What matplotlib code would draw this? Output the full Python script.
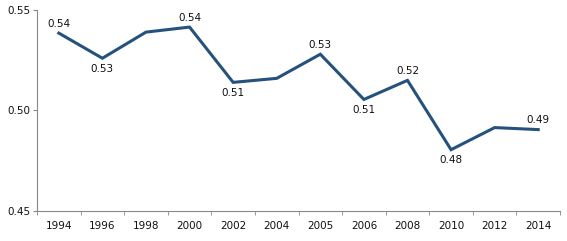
import matplotlib
matplotlib.use("Agg")
import matplotlib.pyplot as plt
import numpy as np

# values
years = ["1994", "1996", "1998", "2000", "2002", "2004",
         "2005", "2006", "2008", "2010", "2012", "2014"]
values = [0.5385, 0.526, 0.539, 0.5415, 0.514, 0.516,
          0.528, 0.5055, 0.515, 0.4805, 0.4915, 0.4905]
point_labels = ["0.54", "0.53", "", "0.54", "0.51", "",
                "0.53", "0.51", "0.52", "0.48", "", "0.49"]
label_above = [True, False, True, True, False, True,
               True, False, True, False, True, True]

plt.rcParams['font.family'] = ['DejaVu Sans']

fig = plt.figure(figsize=(5.67, 2.41), dpi=100)
ax = fig.add_axes([0.0653, 0.1245, 0.9224, 0.834])

x = np.arange(len(years))
ax.plot(x, values, color='#25527d', lw=2.2, solid_joinstyle='miter')

for xi, v, lab, up in zip(x, values, point_labels, label_above):
    if not lab:
        continue
    ax.annotate(lab, (xi, v), xytext=(0, 3 if up else -4), textcoords='offset points',
                ha='center', va='bottom' if up else 'top', fontsize=7.5, color='#111111')

ax.set_ylim(0.45, 0.55)
ax.set_yticks([0.45, 0.50, 0.55])
ax.set_yticklabels(["0.45", "0.50", "0.55"])
ax.set_xlim(-0.5, len(years) - 0.5)
ax.set_xticks(x)
ax.set_xticklabels(years)
ax.set_xticks(np.arange(-0.5, len(years)), minor=True)
ax.tick_params(axis='x', which='major', length=0, pad=7, labelsize=7.5, labelcolor='#111111')
ax.tick_params(axis='x', which='minor', length=3, color='#888888', direction='out')
ax.tick_params(axis='y', length=3, color='#888888', labelsize=7.5, labelcolor='#111111', pad=2)

for s in ['top', 'right']:
    ax.spines[s].set_visible(False)
for s in ['left', 'bottom']:
    ax.spines[s].set_color('#888888')
    ax.spines[s].set_linewidth(0.8)

fig.savefig("out.png", dpi=100)
